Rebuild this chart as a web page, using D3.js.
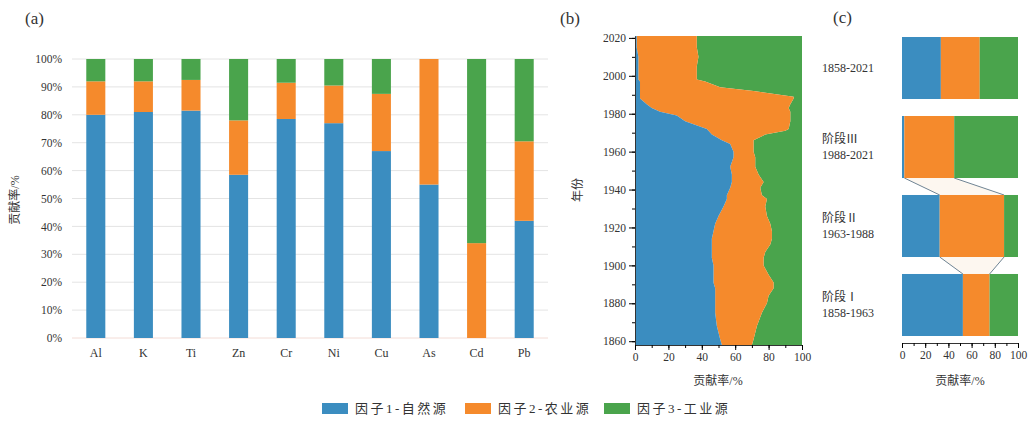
<!DOCTYPE html>
<html><head><meta charset="utf-8">
<script src="https://cdn.jsdelivr.net/npm/d3@7/dist/d3.min.js"></script>
<style>
body{margin:0;background:#fff;}
text{font-family:"Liberation Serif","Noto Sans CJK SC",serif;fill:#333;}
</style></head>
<body><svg id="c" width="1034" height="421"></svg>
<script>
// ---------- data ----------
const factorNames = ["因子1-自然源","因子2-农业源","因子3-工业源"];
const colors = ["#3b8dc0","#f58a2c","#4aa44c"];

// panel (a)
const elements = ["Al","K","Ti","Zn","Cr","Ni","Cu","As","Cd","Pb"];
const aNatural = [80,81,81.5,58.5,78.5,77,67,55,0,42];
const aAgri    = [12,11,11,19.5,13,13.5,20.5,45,34,28.5];
const aIndus   = [8,8,7.5,22,8.5,9.5,12.5,0,66,29.5];
const aTicks = [0,10,20,30,40,50,60,70,80,90,100];

// panel (b)
const bYears   = [1858,1861,1868,1875,1880,1884,1888,1891,1895,1900,1904,1907,1911,1914,1918,1922,1926,1931,1935,1937,1941,1944,1948,1952,1957,1960,1964,1966,1969,1971,1972,1976,1979,1981,1983,1985,1988,1989,1992,1994,1997,1998,2005,2010,2015,2021];
const bNatural = [52,51,49,48,48,48,48,47,47,47,46,46,46,46,47,48,50,53,55,55,57,58,58,57,59,59,57,52,46,44,43,30,25,15,10,7,3,3,3,3,3,2,2,2,1,1];
const bAgri    = [18,20,24,28,31,32,35,36,33,30,31,32,35,36,35,33,29,25,24,21,18,19,16,15,13,12,14,19,32,46,49,63,68,78,82,86,92,92,68,48,39,35,35,36,36,36];
const bYearTicks = [1860,1880,1900,1920,1940,1960,1980,2000,2020];
const pctTicks = [0,20,40,60,80,100];

// panel (c)
const periods   = ["1858-2021","阶段Ⅲ|1988-2021","阶段Ⅱ|1963-1988","阶段Ⅰ|1858-1963"];
const cNatural  = [33.5,2,32.5,52.5];
const cAgri     = [33.5,43,55.5,23];
const cIndus    = [33,55,12,24.5];

// ---------- drawing ----------
const svg = d3.select("#c");
const fs = 11.5;

// ===== Panel (a) =====
const ax = d3.scaleBand().domain(elements).range([72,548]).paddingInner(0.6).paddingOuter(0.3);
const ay = d3.scaleLinear().domain([0,100]).range([338,59]);
const ga = svg.append("g");
ga.selectAll("line.grid").data(aTicks).join("line")
  .attr("x1",72).attr("x2",548).attr("y1",d=>ay(d)).attr("y2",d=>ay(d))
  .attr("stroke",d=>d===0?"#f3dcd6":"#e4e4e4").attr("stroke-width",1);
const yAxA = d3.axisLeft(ay).tickValues(aTicks).tickFormat(d=>d+"%").tickSize(0).tickPadding(10);
ga.append("g").attr("transform","translate(72,0)").call(yAxA)
  .call(g=>g.select(".domain").remove())
  .selectAll("text").attr("font-size",fs).attr("fill","#444");
const xAxA = d3.axisBottom(ax).tickSize(0).tickPadding(10);
ga.append("g").attr("transform","translate(0,338)").call(xAxA)
  .call(g=>g.select(".domain").remove())
  .selectAll("text").attr("font-size",12).attr("fill","#444");
const aStack = elements.map((e,i)=>({e, v:[aNatural[i],aAgri[i],aIndus[i]]}));
aStack.forEach(d=>{
  let c=0;
  d.v.forEach((v,k)=>{
    if(v>0) ga.append("rect").attr("x",ax(d.e)).attr("width",ax.bandwidth())
      .attr("y",ay(c+v)).attr("height",ay(c)-ay(c+v)).attr("fill",colors[k]);
    c+=v;
  });
});
svg.append("text").attr("transform","translate(19,200) rotate(-90)").attr("text-anchor","middle")
  .attr("font-size",12).attr("fill","#444").text("贡献率/%");
svg.append("text").attr("x",25).attr("y",24).attr("font-size",17).attr("fill","#333").text("(a)");

// ===== Panel (b) =====
const bx = d3.scaleLinear().domain([0,100]).range([635,802]);
const by = d3.scaleLinear().domain([1858,2021]).range([345,36]);
const gb = svg.append("g");
const bData = bYears.map((y,i)=>({y, n:bNatural[i], a:bAgri[i]}));
const areaN = d3.area().y(d=>by(d.y)).x0(bx(0)).x1(d=>bx(d.n));
const areaA = d3.area().y(d=>by(d.y)).x0(d=>bx(d.n)).x1(d=>bx(d.n+d.a));
const areaI = d3.area().y(d=>by(d.y)).x0(d=>bx(d.n+d.a)).x1(bx(100));
gb.append("path").datum(bData).attr("d",areaI).attr("fill",colors[2]);
gb.append("path").datum(bData).attr("d",areaA).attr("fill",colors[1]);
gb.append("path").datum(bData).attr("d",areaN).attr("fill",colors[0]);
// y axis
gb.append("g").attr("transform",`translate(${bx(0)},0)`)
  .call(d3.axisLeft(by).tickValues(d3.range(1860,2021,10)).tickFormat("").tickSize(3).tickSizeOuter(0))
  .call(g=>g.select(".domain").attr("stroke","#333"));
gb.append("g").attr("transform",`translate(${bx(0)},0)`)
  .call(d3.axisLeft(by).tickValues(bYearTicks).tickFormat(d3.format("d")).tickSize(6).tickSizeOuter(0).tickPadding(3))
  .call(g=>g.select(".domain").remove())
  .selectAll("text").attr("font-size",fs).attr("fill","#444");
// x axis
gb.append("g").attr("transform",`translate(0,${by(1858)})`)
  .call(d3.axisBottom(bx).tickValues(d3.range(0,101,10)).tickFormat("").tickSize(3).tickSizeOuter(0))
  .call(g=>g.select(".domain").attr("stroke","#333"));
gb.append("g").attr("transform",`translate(0,${by(1858)})`)
  .call(d3.axisBottom(bx).tickValues(pctTicks).tickSize(5).tickSizeOuter(0).tickPadding(3))
  .call(g=>g.select(".domain").remove())
  .selectAll("text").attr("font-size",fs).attr("fill","#444");
svg.append("text").attr("x",718).attr("y",385).attr("text-anchor","middle")
  .attr("font-size",12).attr("fill","#444").text("贡献率/%");
svg.append("text").attr("transform","translate(582,190) rotate(-90)").attr("text-anchor","middle")
  .attr("font-size",12).attr("fill","#444").text("年份");
svg.append("text").attr("x",560).attr("y",24).attr("font-size",17).attr("fill","#333").text("(b)");

// ===== Panel (c) =====
const cx = d3.scaleLinear().domain([0,100]).range([902,1018]);
const cy = d3.scaleBand().domain(periods).range([37,336]).paddingInner(0.215).paddingOuter(0);
const gc = svg.append("g");
const cRows = periods.map((p,i)=>({p, v:[cNatural[i],cAgri[i],cIndus[i]]}));
// connectors
for(let i=1;i<3;i++){
  const up=cRows[i], dn=cRows[i+1];
  const yTop = cy(up.p)+cy.bandwidth(), yBot = cy(dn.p);
  const u1=up.v[0], u2=up.v[0]+up.v[1], d1=dn.v[0], d2=dn.v[0]+dn.v[1];
  gc.append("path").attr("d",`M${cx(u1)},${yTop}L${cx(d1)},${yBot}L${cx(d2)},${yBot}L${cx(u2)},${yTop}Z`)
    .attr("fill","#fdf7f0").attr("stroke","none");
  gc.append("line").attr("x1",cx(u1)).attr("y1",yTop).attr("x2",cx(d1)).attr("y2",yBot).attr("stroke","#6f8494").attr("stroke-width",1);
  gc.append("line").attr("x1",cx(u2)).attr("y1",yTop).attr("x2",cx(d2)).attr("y2",yBot).attr("stroke","#6f8494").attr("stroke-width",1);
}
cRows.forEach(d=>{
  let c=0;
  d.v.forEach((v,k)=>{
    gc.append("rect").attr("x",cx(c)).attr("width",cx(c+v)-cx(c))
      .attr("y",cy(d.p)).attr("height",cy.bandwidth()).attr("fill",colors[k]);
    c+=v;
  });
  const lines = d.p.split("|");
  const mid = cy(d.p)+cy.bandwidth()/2;
  const t = gc.append("text").attr("x",822).attr("font-size",12).attr("fill","#444");
  if(lines.length===1){
    t.attr("y",mid+4).text(lines[0]);
  } else {
    t.append("tspan").attr("x",822).attr("y",mid-4).text(lines[0]);
    t.append("tspan").attr("x",822).attr("y",mid+12).text(lines[1]);
  }
});
gc.append("g").attr("transform","translate(0,343)")
  .call(d3.axisBottom(cx).tickValues(d3.range(0,101,10)).tickFormat("").tickSize(3).tickSizeOuter(0))
  .call(g=>g.select(".domain").attr("stroke","#333"));
gc.append("g").attr("transform","translate(0,343)")
  .call(d3.axisBottom(cx).tickValues(pctTicks).tickSize(5).tickSizeOuter(0).tickPadding(3))
  .call(g=>g.select(".domain").remove())
  .selectAll("text").attr("font-size",fs).attr("fill","#444");
svg.append("text").attr("x",960).attr("y",385).attr("text-anchor","middle")
  .attr("font-size",12).attr("fill","#444").text("贡献率/%");
svg.append("text").attr("x",833).attr("y",23).attr("font-size",17).attr("fill","#333").text("(c)");

// ===== Legend =====
const legX = [322,465,604];
const lg = svg.append("g");
factorNames.forEach((n,i)=>{
  lg.append("rect").attr("x",legX[i]).attr("y",403).attr("width",26).attr("height",11).attr("fill",colors[i]);
  lg.append("text").attr("x",legX[i]+33).attr("y",413).attr("font-size",13)
    .attr("letter-spacing",2.5).attr("fill","#444").text(n);
});
</script></body></html>
